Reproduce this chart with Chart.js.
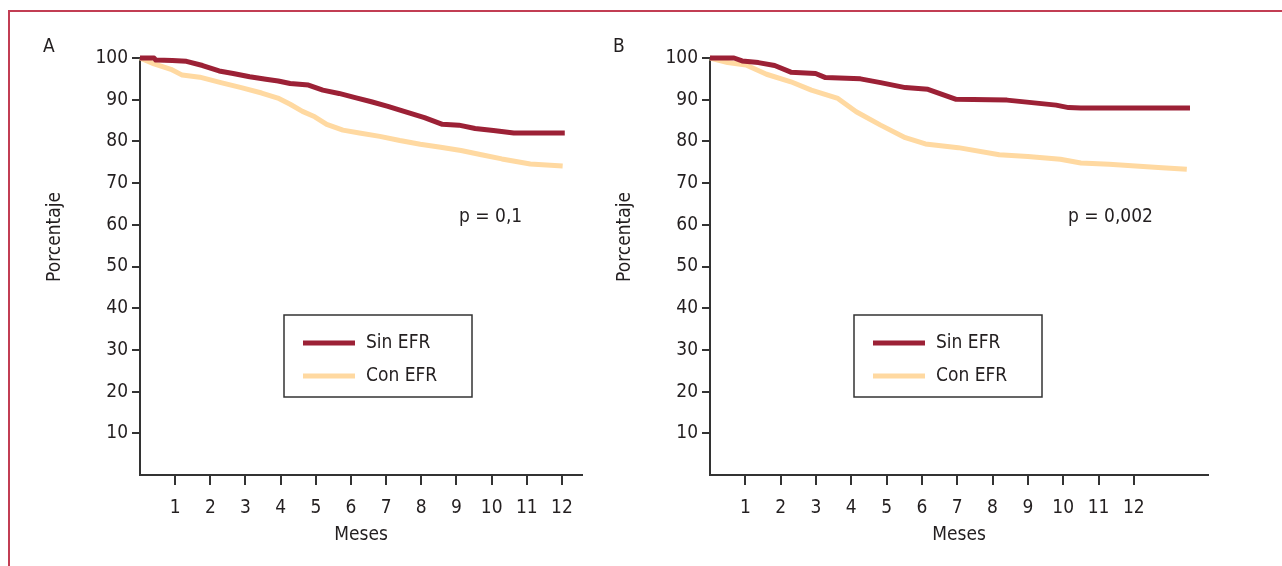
<!DOCTYPE html>
<html>
<head>
<meta charset="utf-8">
<script src="https://cdn.jsdelivr.net/npm/chart.js@4.4.0/dist/chart.umd.min.js"></script>
<style>
html, body { margin: 0; padding: 0; background: #fff; }
body { width: 1282px; height: 566px; position: relative; overflow: hidden; }
.frame { position: absolute; left: 8px; top: 10px; width: 1300px; height: 600px;
         border-top: 2px solid #c23d53; border-left: 2px solid #c23d53; }
canvas { position: absolute; top: 0; }
#chartA { left: 0; }
#chartB { left: 590px; }
</style>
</head>
<body>
<div class="frame"></div>
<canvas id="chartA" width="600" height="566"></canvas>
<canvas id="chartB" width="692" height="566"></canvas>
<script>
// data
const seriesNames = ['Sin EFR', 'Con EFR'];
const monthTicks = [1, 2, 3, 4, 5, 6, 7, 8, 9, 10, 11, 12];
const pctTicks = [10, 20, 30, 40, 50, 60, 70, 80, 90, 100];

// panel A
const sinA_months = [0, 0.4, 0.45, 0.92, 1.32, 1.78, 2.25, 2.65, 3.12, 3.58, 3.93, 4.27, 4.79, 5.2, 5.66, 6.12, 6.58, 7.05, 7.51, 8.09, 8.6, 9.07, 9.53, 10.05, 10.63, 12.08];
const sinA_pct = [100, 100, 99.5, 99.4, 99.2, 98.2, 96.9, 96.3, 95.5, 94.9, 94.5, 93.9, 93.5, 92.3, 91.5, 90.5, 89.5, 88.4, 87.2, 85.7, 84.1, 83.9, 83.1, 82.6, 82.0, 82.0];
const conA_months = [0, 0.4, 0.88, 1.2, 1.7, 2.3, 2.88, 3.46, 3.92, 4.27, 4.62, 4.97, 5.31, 5.77, 6.24, 6.82, 7.39, 7.97, 8.55, 9.13, 9.71, 10.29, 11.1, 12.02];
const conA_pct = [100, 98.6, 97.3, 95.9, 95.4, 94.1, 92.9, 91.6, 90.4, 88.9, 87.2, 85.9, 84.1, 82.7, 82.0, 81.2, 80.2, 79.3, 78.6, 77.8, 76.8, 75.8, 74.6, 74.1];

// panel B
const sinB_months = [0, 0.68, 0.91, 1.37, 1.83, 2.29, 2.99, 3.27, 4.26, 4.83, 5.53, 6.17, 6.97, 8.41, 9.11, 9.8, 10.15, 10.5, 13.59];
const sinB_pct = [100, 100, 99.3, 98.9, 98.2, 96.6, 96.3, 95.3, 95.0, 94.1, 92.9, 92.5, 90.1, 89.9, 89.3, 88.7, 88.1, 88.0, 88.0];
const conB_months = [0, 0.5, 1.02, 1.6, 2.29, 2.87, 3.62, 4.14, 4.83, 5.53, 6.1, 7.03, 8.19, 9.0, 9.92, 10.5, 11.3, 12.8, 13.5];
const conB_pct = [100, 98.9, 98.3, 96.1, 94.3, 92.3, 90.3, 87.1, 83.9, 80.9, 79.4, 78.5, 76.8, 76.4, 75.7, 74.8, 74.5, 73.7, 73.3];

const FONT = "'Liberation Sans Narrow', 'DejaVu Sans Condensed', 'Roboto', sans-serif";
Chart.defaults.font.family = FONT;
Chart.defaults.font.size = 19;
Chart.defaults.color = '#231f20';

const RED = '#9c2136';
const PEACH = '#ffd9a1';
const AXIS = '#333';

const toPoints = (xs, ys) => xs.map((x, i) => ({ x: x, y: ys[i] }));

// panel letter, p value, y title and the boxed legend
const annotations = {
  id: 'annotations',
  afterDraw(chart, args, o) {
    const ctx = chart.ctx;
    const a = chart.chartArea;
    ctx.save();
    ctx.fillStyle = '#231f20';
    ctx.font = '19px ' + FONT;
    ctx.textBaseline = 'middle';
    ctx.textAlign = 'left';
    ctx.fillText(o.letter, o.letterX, 47);
    ctx.fillText(o.pText, o.pX, 217);

    // legend box
    const bx = a.left + 144, by = a.top + 257;
    ctx.strokeStyle = AXIS;
    ctx.lineWidth = 1.5;
    ctx.strokeRect(bx, by, 188, 82);
    chart.data.datasets.forEach((ds, i) => {
      const ly = by + 28 + i * 33;
      ctx.strokeStyle = ds.borderColor;
      ctx.lineWidth = 5;
      ctx.beginPath();
      ctx.moveTo(bx + 19, ly);
      ctx.lineTo(bx + 71, ly);
      ctx.stroke();
      ctx.fillText(ds.label, bx + 82, ly);
    });

    ctx.translate(o.yTitleX, 237);
    ctx.rotate(-Math.PI / 2);
    ctx.textAlign = 'center';
    ctx.fillText('Porcentaje', 0, 0);
    ctx.restore();
  }
};

function makePanel(id, sin, con, xMax, yAxisWidth, padRight, notes) {
  return new Chart(document.getElementById(id), {
    type: 'line',
    data: {
      datasets: [
        { label: seriesNames[0], data: sin, borderColor: RED, borderWidth: 5 },
        { label: seriesNames[1], data: con, borderColor: PEACH, borderWidth: 5 }
      ]
    },
    options: {
      responsive: false,
      animation: false,
      devicePixelRatio: 1,
      layout: { padding: { top: 58, right: padRight, left: 0, bottom: 0 } },
      elements: {
        point: { radius: 0 },
        line: { tension: 0, borderJoinStyle: 'round', fill: false }
      },
      datasets: { line: { clip: false } },
      scales: {
        x: {
          type: 'linear',
          min: 0,
          max: xMax,
          afterBuildTicks: s => { s.ticks = monthTicks.map(v => ({ value: v })); },
          afterFit: s => { s.height = 91; },
          border: { display: true, color: AXIS, width: 2 },
          grid: { drawOnChartArea: false, drawTicks: true, tickLength: 10, color: AXIS, lineWidth: 2 },
          ticks: { padding: 12, maxRotation: 0, autoSkip: false },
          title: { display: true, text: 'Meses', padding: { top: 0, bottom: 20 } }
        },
        y: {
          min: 0,
          max: 100,
          afterBuildTicks: s => { s.ticks = pctTicks.map(v => ({ value: v })); },
          afterFit: s => { s.width = yAxisWidth; },
          border: { display: true, color: AXIS, width: 2 },
          grid: { drawOnChartArea: false, drawTicks: true, tickLength: 8, color: AXIS, lineWidth: 2 },
          ticks: { padding: 4 }
        }
      },
      plugins: {
        legend: { display: false },
        tooltip: { enabled: false },
        annotations: notes
      }
    },
    plugins: [annotations]
  });
}

makePanel('chartA', toPoints(sinA_months, sinA_pct), toPoints(conA_months, conA_pct),
  12.57, 140, 18, { letter: 'A', letterX: 43, pText: 'p = 0,1', pX: 459, yTitleX: 55 });
makePanel('chartB', toPoints(sinB_months, sinB_pct), toPoints(conB_months, conB_pct),
  14.1, 120, 74, { letter: 'B', letterX: 23, pText: 'p = 0,002', pX: 478, yTitleX: 35 });
</script>
</body>
</html>
